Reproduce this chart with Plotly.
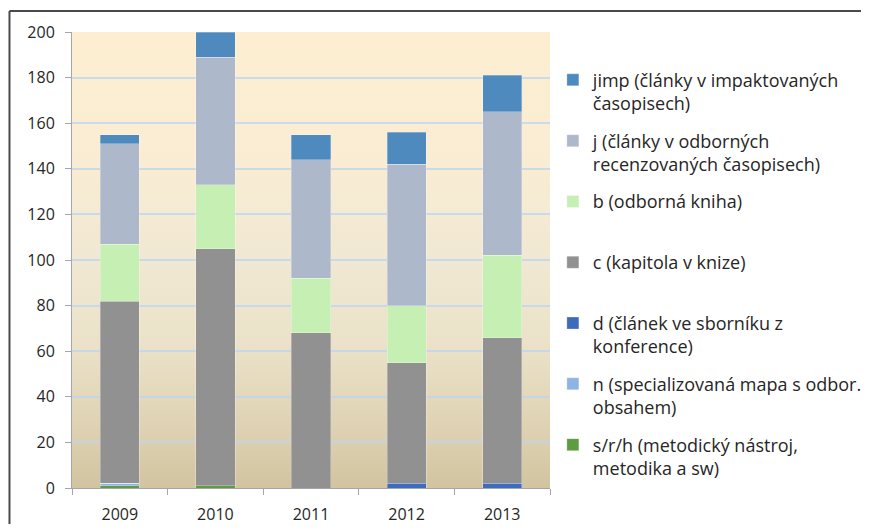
import base64
import plotly.graph_objects as go

years = ["2009", "2010", "2011", "2012", "2013"]

srh = [1, 1, 0, 0, 0]
n_map = [1, 0, 0, 0, 0]
d_conf = [0, 0, 0, 2, 2]
c_chap = [80, 104, 68, 53, 64]
b_book = [25, 28, 24, 25, 36]
j_art = [44, 56, 52, 62, 63]
jimp = [4, 11, 11, 14, 16]

series = [
    ("s/r/h (metodický nástroj,<br>metodika a sw)", srh, "#5E9B42"),
    ("n (specializovaná mapa s odbor.<br>obsahem)", n_map, "#8DB4E2"),
    ("d (článek ve sborníku z<br>konference)", d_conf, "#3E6CB8"),
    ("c (kapitola v knize)<br> ", c_chap, "#919191"),
    ("b (odborná kniha)<br> ", b_book, "#C6EFB3"),
    ("j (články v odborných<br>recenzovaných časopisech)", j_art, "#ADB8CB"),
    ("jimp (články v impaktovaných<br>časopisech)", jimp, "#4F8ABE"),
]

FONT = "'Open Sans', sans-serif"

fig = go.Figure()
for i, (name, vals, col) in enumerate(series):
    fig.add_trace(go.Bar(
        x=years, y=vals, name=name, legendgroup=str(i), legendrank=len(series) - i,
        marker=dict(color=col, line=dict(color="rgba(255,255,255,0.35)", width=0.8)),
    ))

svg = """<svg xmlns='http://www.w3.org/2000/svg' width='100' height='100' preserveAspectRatio='none'>
<defs><linearGradient id='g' x1='0' y1='0' x2='0' y2='1'>
<stop offset='0' stop-color='#FDEED1'/>
<stop offset='0.25' stop-color='#FAEDD3'/>
<stop offset='0.5' stop-color='#F1E8D3'/>
<stop offset='0.68' stop-color='#EBE2C9'/>
<stop offset='0.86' stop-color='#DFD3B4'/>
<stop offset='1' stop-color='#D2C4A0'/>
</linearGradient></defs>
<rect width='100' height='100' fill='url(#g)'/></svg>"""
src = "data:image/svg+xml;base64," + base64.b64encode(svg.encode()).decode()

frame = dict(color="#4A4A4A", width=2)

fig.update_layout(
    width=853, height=516,
    margin=dict(l=64, r=311, t=24, b=36, autoexpand=False),
    barmode="stack", bargap=0.59,
    paper_bgcolor="white", plot_bgcolor="rgba(0,0,0,0)",
    font=dict(family=FONT, size=15, color="#262626"),
    showlegend=True,
    legend=dict(
        x=1.006, xanchor="left", y=0.935, yanchor="top",
        traceorder="grouped", tracegroupgap=11,
        valign="top", font=dict(family=FONT, size=18, color="#262626"),
        bgcolor="rgba(0,0,0,0)",
    ),
    images=[dict(source=src, xref="paper", yref="paper", x=0, y=1, sizex=1, sizey=1,
                 sizing="stretch", layer="below", xanchor="left", yanchor="top")],
    xaxis=dict(
        type="category", showgrid=False, showline=True, linecolor="#A6A6A6", linewidth=1,
        ticks="outside", tickson="boundaries", ticklen=6, tickcolor="#A6A6A6",
        ticklabelstandoff=12, automargin=False,
        tickfont=dict(family=FONT, size=16, color="#262626"),
    ),
    yaxis=dict(
        range=[0, 200], dtick=20, showgrid=True, gridcolor="rgba(185,212,245,0.75)", gridwidth=1.5,
        showline=True, linecolor="#A6A6A6", linewidth=1, ticks="outside", ticklen=6,
        tickcolor="#A6A6A6", zeroline=False, ticklabelstandoff=7, automargin=False,
        tickfont=dict(family=FONT, size=16, color="#262626"),
    ),
    shapes=[
        dict(type="line", xref="paper", yref="paper", x0=-0.1308, y0=1.046, x1=1.66, y1=1.046, line=frame),
        dict(type="line", xref="paper", yref="paper", x0=-0.1308, y0=1.046, x1=-0.1308, y1=-0.09, line=frame),
    ],
)

fig.write_html("out.html")
